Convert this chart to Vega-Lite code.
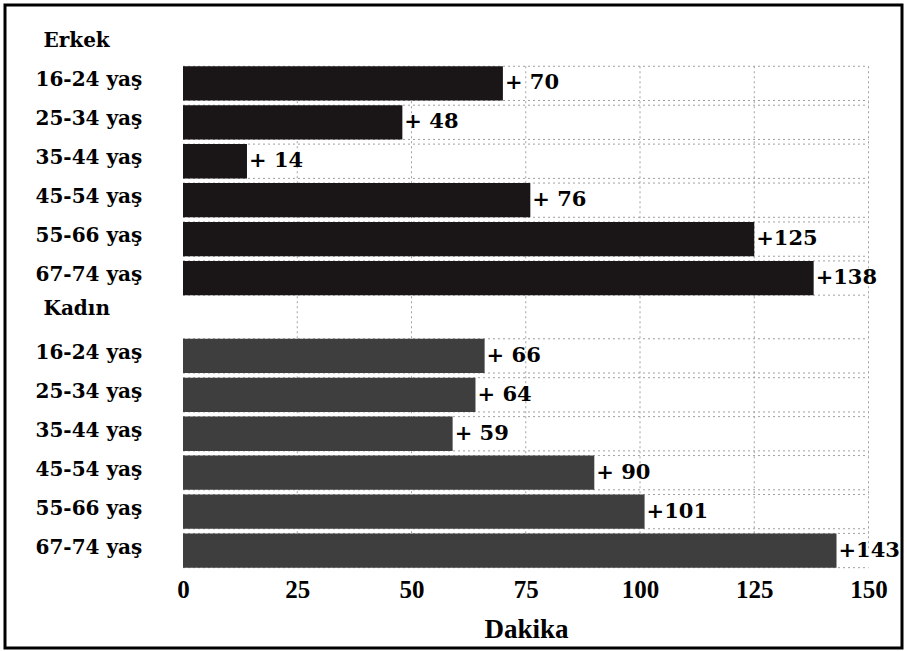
{
  "$schema": "https://vega.github.io/schema/vega-lite/v6.json",
  "width": 897,
  "height": 643,
  "autosize": {"type": "none"},
  "padding": {"left": 5, "top": 5, "right": 5, "bottom": 3},
  "background": "white",
  "config": {"view": {"stroke": "black", "strokeWidth": 3}, "font": "DejaVu Serif"},
  "resolve": {"axis": {"x": "independent", "y": "independent"}},
  "datasets": {
    "bars": [
      {"grup": "Erkek", "yas": "16-24 yaş", "satir": "Erkek 16-24 yaş", "dakika": 70, "etiket": "+ 70"},
      {"grup": "Erkek", "yas": "25-34 yaş", "satir": "Erkek 25-34 yaş", "dakika": 48, "etiket": "+ 48"},
      {"grup": "Erkek", "yas": "35-44 yaş", "satir": "Erkek 35-44 yaş", "dakika": 14, "etiket": "+ 14"},
      {"grup": "Erkek", "yas": "45-54 yaş", "satir": "Erkek 45-54 yaş", "dakika": 76, "etiket": "+ 76"},
      {"grup": "Erkek", "yas": "55-66 yaş", "satir": "Erkek 55-66 yaş", "dakika": 125, "etiket": "+125"},
      {"grup": "Erkek", "yas": "67-74 yaş", "satir": "Erkek 67-74 yaş", "dakika": 138, "etiket": "+138"},
      {"grup": "Kadın", "yas": "16-24 yaş", "satir": "Kadın 16-24 yaş", "dakika": 66, "etiket": "+ 66"},
      {"grup": "Kadın", "yas": "25-34 yaş", "satir": "Kadın 25-34 yaş", "dakika": 64, "etiket": "+ 64"},
      {"grup": "Kadın", "yas": "35-44 yaş", "satir": "Kadın 35-44 yaş", "dakika": 59, "etiket": "+ 59"},
      {"grup": "Kadın", "yas": "45-54 yaş", "satir": "Kadın 45-54 yaş", "dakika": 90, "etiket": "+ 90"},
      {"grup": "Kadın", "yas": "55-66 yaş", "satir": "Kadın 55-66 yaş", "dakika": 101, "etiket": "+101"},
      {"grup": "Kadın", "yas": "67-74 yaş", "satir": "Kadın 67-74 yaş", "dakika": 143, "etiket": "+143"}
    ],
    "izgara": [
      {"dakika": 25}, {"dakika": 50}, {"dakika": 75}, {"dakika": 100}, {"dakika": 125}, {"dakika": 150}
    ]
  },
  "layer": [
    {
      "data": {"name": "izgara"},
      "mark": {"type": "rule", "color": "#a0a0a0", "strokeWidth": 1, "strokeDash": [2, 3]},
      "encoding": {
        "x": {"field": "dakika", "type": "quantitative", "axis": null,
              "scale": {"domain": [-38.95, 157.33], "nice": false, "zero": false}},
        "y": {"datum": "Erkek 16-24 yaş", "type": "nominal", "bandPosition": 0, "axis": null,
              "scale": {"type": "band", "domain": ["Erkek", "Erkek 16-24 yaş", "Erkek 25-34 yaş", "Erkek 35-44 yaş", "Erkek 45-54 yaş", "Erkek 55-66 yaş", "Erkek 67-74 yaş", "Kadın", "Kadın 16-24 yaş", "Kadın 25-34 yaş", "Kadın 35-44 yaş", "Kadın 45-54 yaş", "Kadın 55-66 yaş", "Kadın 67-74 yaş"],
                        "range": [20, 565], "paddingInner": 0.12, "paddingOuter": 0.06, "align": 0.5}},
        "y2": {"datum": "Kadın 67-74 yaş"}
      }
    },
    {
      "data": {"name": "bars"},
      "mark": {"type": "rule", "color": "#a0a0a0", "strokeWidth": 1, "strokeDash": [2, 3]},
      "encoding": {
        "x": {"datum": 0, "type": "quantitative", "axis": null},
        "x2": {"datum": 150},
        "y": {"field": "satir", "type": "nominal", "bandPosition": 0, "axis": null, "scale": {"type": "band"}}
      }
    },
    {
      "data": {"name": "bars"},
      "mark": {"type": "rule", "color": "#a0a0a0", "strokeWidth": 1, "strokeDash": [2, 3]},
      "encoding": {
        "x": {"datum": 0, "type": "quantitative", "axis": null},
        "x2": {"datum": 150},
        "y": {"field": "satir", "type": "nominal", "bandPosition": 1, "axis": null, "scale": {"type": "band"}}
      }
    },
    {
      "data": {"name": "bars"},
      "mark": {"type": "bar"},
      "encoding": {
        "x": {"field": "dakika", "type": "quantitative",
              "scale": {"domain": [-38.95, 157.33], "nice": false, "zero": false},
              "axis": {"values": [0, 25, 50, 75, 100, 125, 150], "orient": "bottom", "offset": -71,
                       "domain": false, "ticks": false, "tickSize": 0, "grid": false,
                       "labelPadding": 0, "labelBaseline": "top", "labelFlush": false, "labelOverlap": false,
                       "labelFont": "Liberation Serif", "labelFontWeight": "bold", "labelFontSize": 25, "labelColor": "black",
                       "title": "Dakika", "titleFont": "Liberation Serif", "titleFontWeight": "bold", "titleFontSize": 27,
                       "titleColor": "black", "titlePadding": 14, "titleX": 521}},
        "y": {"field": "satir", "type": "nominal", "sort": null,
              "scale": {"type": "band"},
              "axis": {"orient": "left", "title": null, "domain": false, "ticks": false, "tickSize": 0, "grid": false,
                       "labelAlign": "left",
                       "labelPadding": {"condition": {"test": "datum.value == 'Erkek' || datum.value == 'Kadın'", "value": -38}, "value": -30},
                       "labelOffset": {"condition": {"test": "datum.value == 'Kadın'", "value": -8}, "value": -3},
                       "labelBaseline": "middle",
                       "labelFont": "DejaVu Serif", "labelFontWeight": "bold", "labelFontSize": 20, "labelColor": "black",
                       "labelLimit": 250,
                       "labelExpr": "replace(datum.value, regexp('^(Erkek|Kadın) '), '')"}},
        "color": {"field": "grup", "type": "nominal", "legend": null,
                  "scale": {"domain": ["Erkek", "Kadın"], "range": ["#1a1618", "#3e3e3e"]}}
      }
    },
    {
      "data": {"name": "bars"},
      "mark": {"type": "text", "align": "left", "baseline": "middle", "dx": 2,
               "font": "DejaVu Serif", "fontWeight": "bold", "fontSize": 21, "color": "black"},
      "encoding": {
        "x": {"field": "dakika", "type": "quantitative", "axis": null},
        "y": {"field": "satir", "type": "nominal", "axis": null, "scale": {"type": "band"}},
        "text": {"field": "etiket"}
      }
    }
  ]
}
